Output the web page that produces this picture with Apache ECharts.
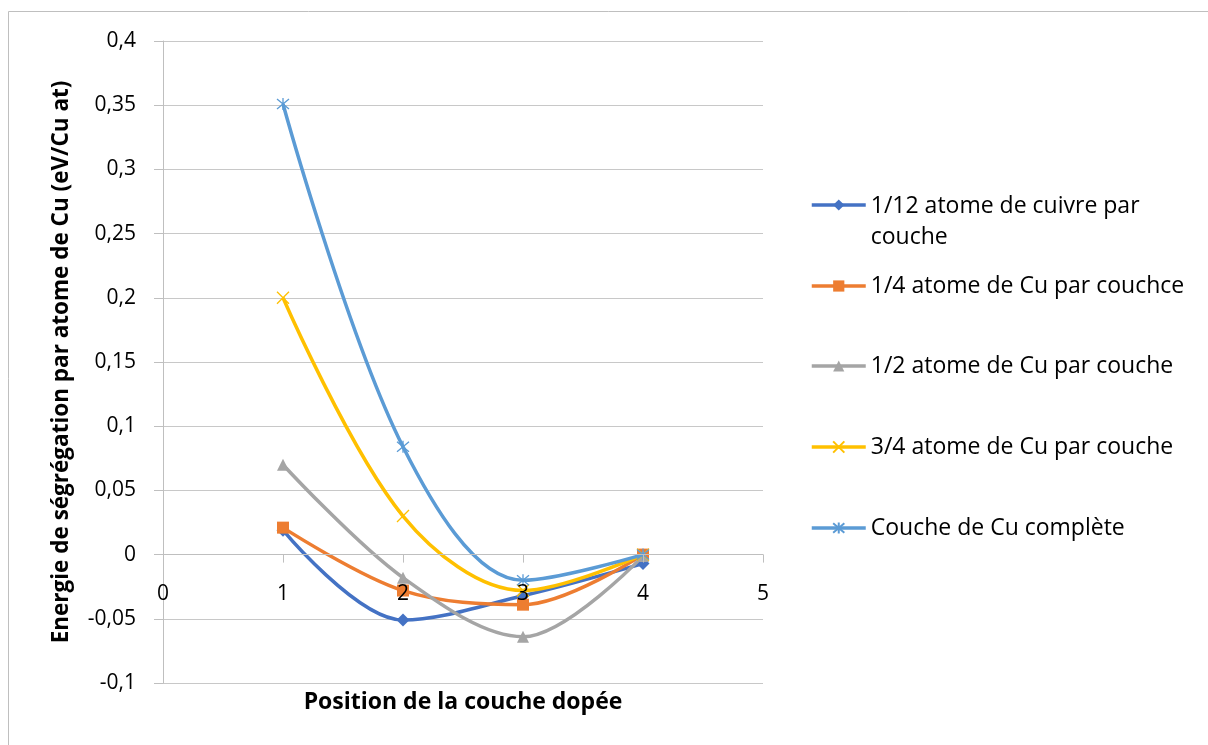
<!DOCTYPE html>
<html>
<head>
<meta charset="utf-8">
<script src="https://cdn.jsdelivr.net/npm/echarts@6/dist/echarts.min.js"></script>
<style>
html,body{margin:0;padding:0;background:#fff;}
#chart{width:1208px;height:745px;}
</style>
</head>
<body>
<div id="chart"></div>
<script>
// Data
var positions = [1, 2, 3, 4];
var seriesNames = [
  '1/12 atome de cuivre par couche',
  '1/4 atome de Cu par couchce',
  '1/2 atome de Cu par couche',
  '3/4 atome de Cu par couche',
  'Couche de Cu complète'
];
var s12 = [0.019, -0.051, -0.032, -0.007];
var s14 = [0.021, -0.028, -0.039, 0.0];
var s12b = [0.070, -0.018, -0.064, -0.001];
var s34 = [0.200, 0.030, -0.028, 0.0];
var sFull = [0.351, 0.084, -0.020, 0.0];
var xTicks = [0, 1, 2, 3, 4, 5];
var yTicks = [-0.1, -0.05, 0, 0.05, 0.1, 0.15, 0.2, 0.25, 0.3, 0.35, 0.4];

var colors = ['#4472C4', '#ED7D31', '#A5A5A5', '#FFC000', '#5B9BD5'];
var symbols = [
  'diamond',
  'rect',
  'triangle',
  'path://M0,0L10,10M0,10L10,0',
  'path://M0,0L10,10M0,10L10,0M5,-1L5,11'
];
var values = [s12, s14, s12b, s34, sFull];
var FONT = '"Open Sans", Lato, sans-serif';
var LEG_FS = 23;

function pairs(arr) {
  return positions.map(function (x, i) { return [x, arr[i]]; });
}

var series = values.map(function (v, i) {
  var isCross = i >= 3;
  return {
    name: seriesNames[i],
    type: 'line',
    data: pairs(v),
    smooth: 0.34,
    symbol: symbols[i],
    symbolSize: isCross ? 12 : (i === 0 ? 13 : 12),
    showAllSymbol: true,
    lineStyle: { color: colors[i], width: 3.5 },
    itemStyle: isCross
      ? { color: 'rgba(0,0,0,0)', borderColor: colors[i], borderWidth: 1.3 }
      : { color: colors[i], borderWidth: 0 },
    emphasis: { disabled: true },
    z: 2 + i
  };
});

var legendTops = [154, 270, 350, 431, 512];
var legends = seriesNames.map(function (n, i) {
  var lg = {
    data: [n],
    left: 810,
    top: legendTops[i],
    itemWidth: 54,
    itemHeight: 14,
    itemGap: 0,
    padding: 0,
    selectedMode: false,
    lineStyle: { width: 3.5 },
    textStyle: { fontFamily: FONT, fontSize: LEG_FS, color: '#000', lineHeight: 32 }
  };
  if (i === 0) {
    lg.formatter = function () { return '{a|1/12 atome de cuivre par}\n{b|couche}'; };
    lg.textStyle.rich = {
      a: { fontFamily: FONT, fontSize: LEG_FS, color: '#000', lineHeight: 64, verticalAlign: 'bottom' },
      b: { fontFamily: FONT, fontSize: LEG_FS, color: '#000', lineHeight: 38 }
    };
  }
  return lg;
});

var gridTop = 41, gridBottom = 62, chartH = 745;
var gridH = chartH - gridTop - gridBottom;
var yMin = yTicks[0], yMax = yTicks[yTicks.length - 1];
var zeroOffset = -gridH * (0 - yMin) / (yMax - yMin);

var chart = echarts.init(document.getElementById('chart'), null, { renderer: 'canvas' });
chart.setOption({
  animation: false,
  backgroundColor: '#fff',
  graphic: [{
    type: 'rect',
    shape: { x: 8.5, y: 11.5, width: 1400, height: 1000 },
    style: { fill: 'none', stroke: '#bfbfbf', lineWidth: 1 },
    silent: true
  }],
  grid: { left: 163, right: 445, top: gridTop, bottom: gridBottom, containLabel: false, outerBoundsMode: 'none' },
  legend: legends,
  xAxis: {
    type: 'value',
    z: 10,
    min: xTicks[0],
    max: xTicks[xTicks.length - 1],
    interval: 1,
    offset: zeroOffset,
    name: 'Position de la couche dopée',
    nameLocation: 'middle',
    nameGap: 136,
    nameTextStyle: { fontFamily: FONT, fontSize: 23, fontWeight: 'bold', color: '#000' },
    axisLine: { show: true, onZero: false, lineStyle: { color: '#bfbfbf', width: 1 } },
    axisTick: { show: true, inside: false, length: 8, lineStyle: { color: '#bfbfbf' } },
    axisLabel: { fontFamily: FONT, fontSize: 21, color: '#000', margin: 29 },
    splitLine: { show: false }
  },
  yAxis: {
    type: 'value',
    min: yMin,
    max: yMax,
    interval: 0.05,
    name: 'Energie de ségrégation par atome de Cu (eV/Cu at)',
    nameLocation: 'middle',
    nameGap: 90,
    nameRotate: 90,
    nameTextStyle: { fontFamily: FONT, fontSize: 22.5, fontWeight: 'bold', color: '#000' },
    axisLine: { show: true, lineStyle: { color: '#bfbfbf', width: 1 } },
    axisTick: { show: true, inside: false, length: 9, lineStyle: { color: '#bfbfbf' } },
    axisLabel: {
      fontFamily: FONT, fontSize: 21, color: '#000', margin: 27,
      formatter: function (v) { return String(parseFloat(v.toFixed(3))).replace('.', ','); }
    },
    splitLine: { show: true, lineStyle: { color: '#c8c8c8', width: 1 } }
  },
  series: series
});
</script>
</body>
</html>
